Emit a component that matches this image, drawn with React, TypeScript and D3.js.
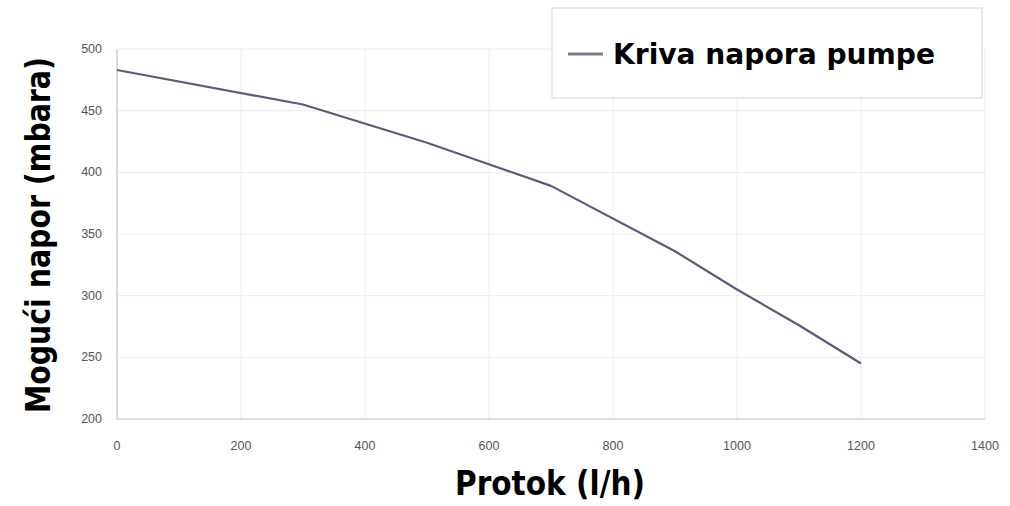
import React from "react";
import * as d3 from "d3";

const flow = [0, 300, 500, 700, 900, 1000, 1100, 1200];
const head = [483, 455, 424, 389, 336, 305, 276, 245];
const xTicks = [0, 200, 400, 600, 800, 1000, 1200, 1400];
const yTicks = [200, 250, 300, 350, 400, 450, 500];
const seriesName = "Kriva napora pumpe";
const xTitle = "Protok (l/h)";
const yTitle = "Mogući napor (mbara)";

export default function App() {
  const W = 1010, H = 506;
  const x = d3.scaleLinear().domain([0, 1400]).range([117, 985]);
  const y = d3.scaleLinear().domain([200, 500]).range([419, 49]);
  const line = d3.line<number>().x((_, i) => x(flow[i])).y((d) => y(d));
  return (
    <svg width={W} height={H} style={{ position: "absolute", left: 0, top: 0, background: "#fff" }}>
      <rect x={0} y={0} width={W} height={H} fill="#fff" />
      {xTicks.map((t) => (
        <line key={"gx" + t} x1={x(t)} x2={x(t)} y1={y(500)} y2={y(200)} stroke="#ececec" strokeWidth={1} />
      ))}
      {yTicks.map((t) => (
        <line key={"gy" + t} x1={x(0)} x2={x(1400)} y1={y(t)} y2={y(t)} stroke="#ececec" strokeWidth={1} />
      ))}
      <line x1={x(0)} x2={x(0)} y1={y(500)} y2={y(200)} stroke="#c8c8c8" strokeWidth={1.2} />
      <line x1={x(0)} x2={x(1400)} y1={y(200)} y2={y(200)} stroke="#c8c8c8" strokeWidth={1.2} />
      {yTicks.map((t) => (
        <text key={"ty" + t} x={x(0) - 15} y={y(t) + 4} textAnchor="end" fontFamily="Arial, Liberation Sans" fontSize={12.5} fill="#555">{t}</text>
      ))}
      {xTicks.map((t) => (
        <text key={"tx" + t} x={x(t)} y={y(200) + 31} textAnchor="middle" fontFamily="Arial, Liberation Sans" fontSize={12.5} fill="#555">{t}</text>
      ))}
      <path d={line(head) || ""} fill="none" stroke="#5c5c78" strokeWidth={2.2} strokeLinejoin="round" />
      <rect x={552} y={8} width={430} height={90} fill="#fff" stroke="#dcdcdc" strokeWidth={1.2} />
      <line x1={568} x2={603} y1={54} y2={54} stroke="#7a7a90" strokeWidth={3} />
      <text x={613} y={64} fontFamily="DejaVu Sans" fontWeight="bold" fontSize={29} fill="#000" textLength={322} lengthAdjust="spacingAndGlyphs">{seriesName}</text>
      <text x={455} y={495} fontFamily="DejaVu Sans" fontWeight="bold" fontSize={33} fill="#000" textLength={190} lengthAdjust="spacingAndGlyphs">{xTitle}</text>
      <text transform="translate(50,413) rotate(-90)" fontFamily="DejaVu Sans" fontWeight="bold" fontSize={33} fill="#000" textLength={356} lengthAdjust="spacingAndGlyphs">{yTitle}</text>
    </svg>
  );
}
